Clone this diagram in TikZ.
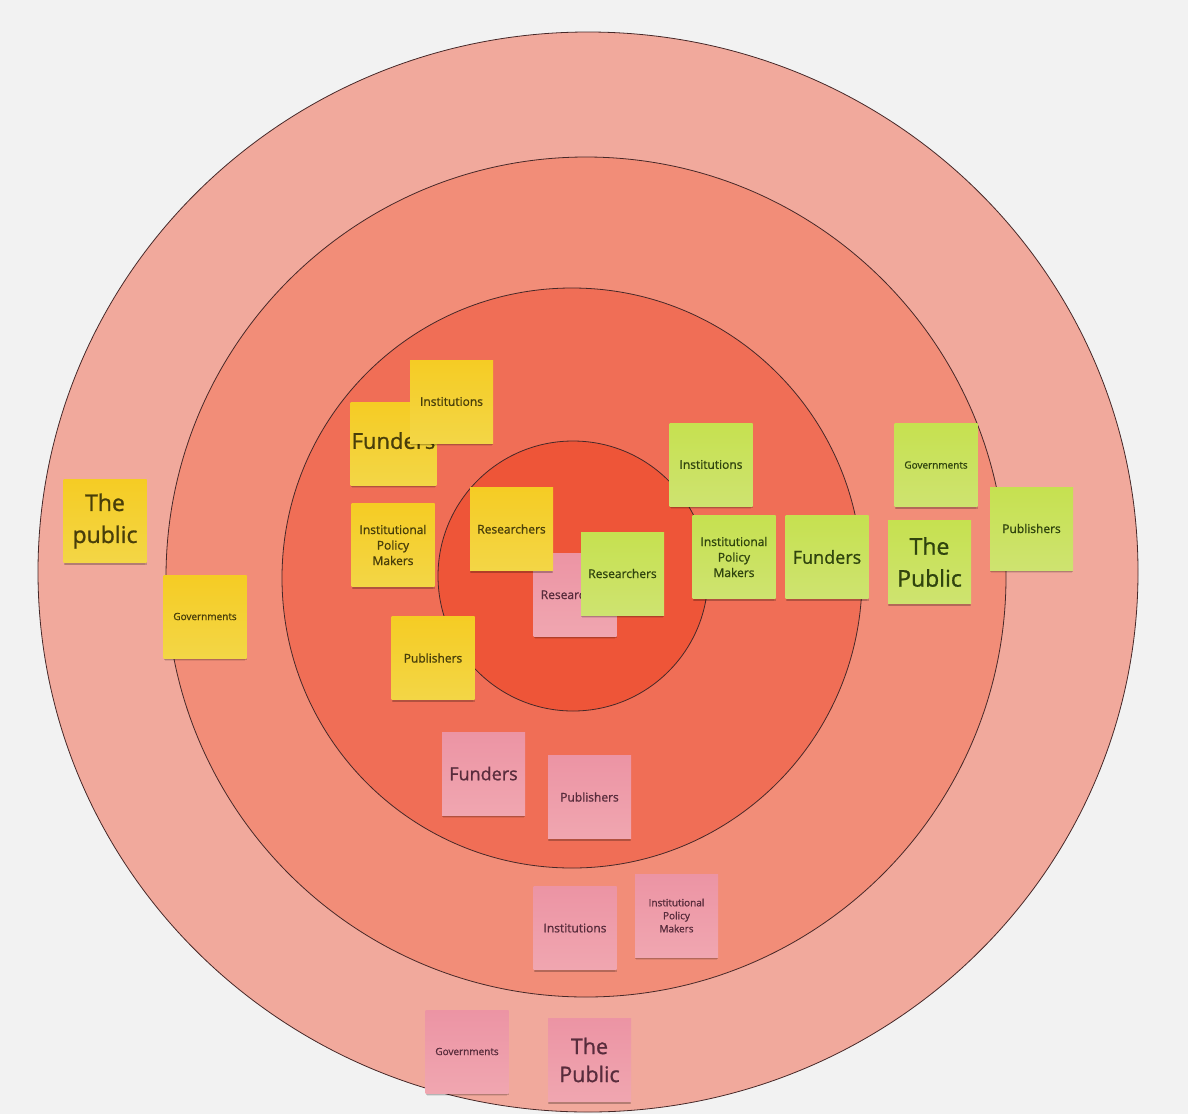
\documentclass[tikz,border=0pt]{standalone}
\usepackage{fontspec}
\setmainfont{Open Sans}
\newfontfamily\notefont{Open Sans}[FakeBold=1.0]
\usetikzlibrary{shadows}

% ring fills
\definecolor{bgcol}{RGB}{242,242,242}
\definecolor{ringA}{RGB}{241,169,156}
\definecolor{ringB}{RGB}{242,141,120}
\definecolor{ringC}{RGB}{240,110,86}
\definecolor{ringD}{RGB}{238,85,56}
\definecolor{ringline}{RGB}{70,40,40}
% sticky notes
\definecolor{ylwTop}{RGB}{245,204,36}
\definecolor{ylwBot}{RGB}{243,214,70}
\definecolor{ylwText}{RGB}{72,62,10}
\definecolor{grnTop}{RGB}{198,225,80}
\definecolor{grnBot}{RGB}{206,227,112}
\definecolor{grnText}{RGB}{48,68,14}
\definecolor{pnkTop}{RGB}{236,148,164}
\definecolor{pnkBot}{RGB}{240,166,176}
\definecolor{pnkText}{RGB}{88,44,60}

\newcommand\txtsmall{\notefont\fontsize{12}{15.5}\selectfont}
\newcommand\txttiny{\notefont\fontsize{10}{13}\selectfont}
\newcommand\txtbig{\notefont\fontsize{18}{22}\selectfont}
\newcommand\txthuge{\notefont\fontsize{23}{32}\selectfont}

\tikzset{
  ring/.style={draw=ringline, line width=0.8pt},
  note/.style={minimum width=83pt, minimum height=83pt, inner sep=1pt,
    align=center, font=\txtsmall,
    general shadow={shadow yshift=-2pt, fill=black, opacity=0.18},
    general shadow={shadow yshift=-4pt, shadow scale=0.97, fill=black, opacity=0.09}},
  yellownote/.style={note, top color=ylwTop, bottom color=ylwBot, text=ylwText},
  greennote/.style={note, top color=grnTop, bottom color=grnBot, text=grnText},
  pinknote/.style={note, top color=pnkTop, bottom color=pnkBot, text=pnkText},
  tinytext/.style={font=\txttiny},
  bigtext/.style={font=\txtbig},
  hugetext/.style={font=\txthuge},
}

\begin{document}
\begin{tikzpicture}[x=1pt, y=-1pt]
  % canvas
  \fill[bgcol] (0,0) rectangle (1188,1114);
  \useasboundingbox (0,0) rectangle (1188,1114);

  % concentric rings
  \draw[ring, fill=ringA] (588,572) ellipse [x radius=550, y radius=540];
  \draw[ring, fill=ringB] (586,577) circle [radius=420];
  \draw[ring, fill=ringC] (572,578) circle [radius=290];
  \draw[ring, fill=ringD] (573,576) circle [radius=135];

  % yellow notes
  \node[yellownote, font=\notefont\fontsize{22}{26}\selectfont] (yFund) at (393.5,443.5) {\raisebox{6pt}{Funders}};
  \node[yellownote] (yInst) at (451.5,401.5) {Institutions};
  \node[yellownote] (yIPM) at (393,545) {Institutional\\Policy\\Makers};
  \node[yellownote] (yPub) at (433,658) {Publishers};
  \node[yellownote, hugetext] (yPublic) at (105,521) {The\\public};
  \node[yellownote, tinytext] (yGov) at (205,616.5) {Governments};

  % researchers, stacked
  \node[pinknote] (pRes) at (575,594.5) {Researchers};
  \node[yellownote] (yRes) at (511.5,529) {Researchers};
  \node[greennote] (gRes) at (622.5,573.5) {Researchers};

  % green notes
  \node[greennote] (gInst) at (711,464.5) {Institutions};
  \node[greennote] (gIPM) at (734,557) {Institutional\\Policy\\Makers};
  \node[greennote, bigtext] (gFund) at (827,557) {Funders};
  \node[greennote, tinytext] (gGov) at (936,465) {Governments};
  \node[greennote, hugetext] (gPublic) at (929.5,562) {The\\Public};
  \node[greennote] (gPub) at (1031.5,528.5) {Publishers};

  % pink notes
  \node[pinknote, bigtext] (pFund) at (483.5,773.5) {Funders};
  \node[pinknote] (pPub) at (589.5,797) {Publishers};
  \node[pinknote] (pInst) at (575,928) {Institutions};
  \node[pinknote, tinytext] (pIPM) at (676.5,915.5) {Institutional\\Policy\\Makers};
  \node[pinknote, tinytext] (pGov) at (467,1051.5) {Governments};
  \node[pinknote, font=\notefont\fontsize{21.5}{28}\selectfont] (pPublic) at (589.5,1060) {The\\Public};
\end{tikzpicture}
\end{document}
